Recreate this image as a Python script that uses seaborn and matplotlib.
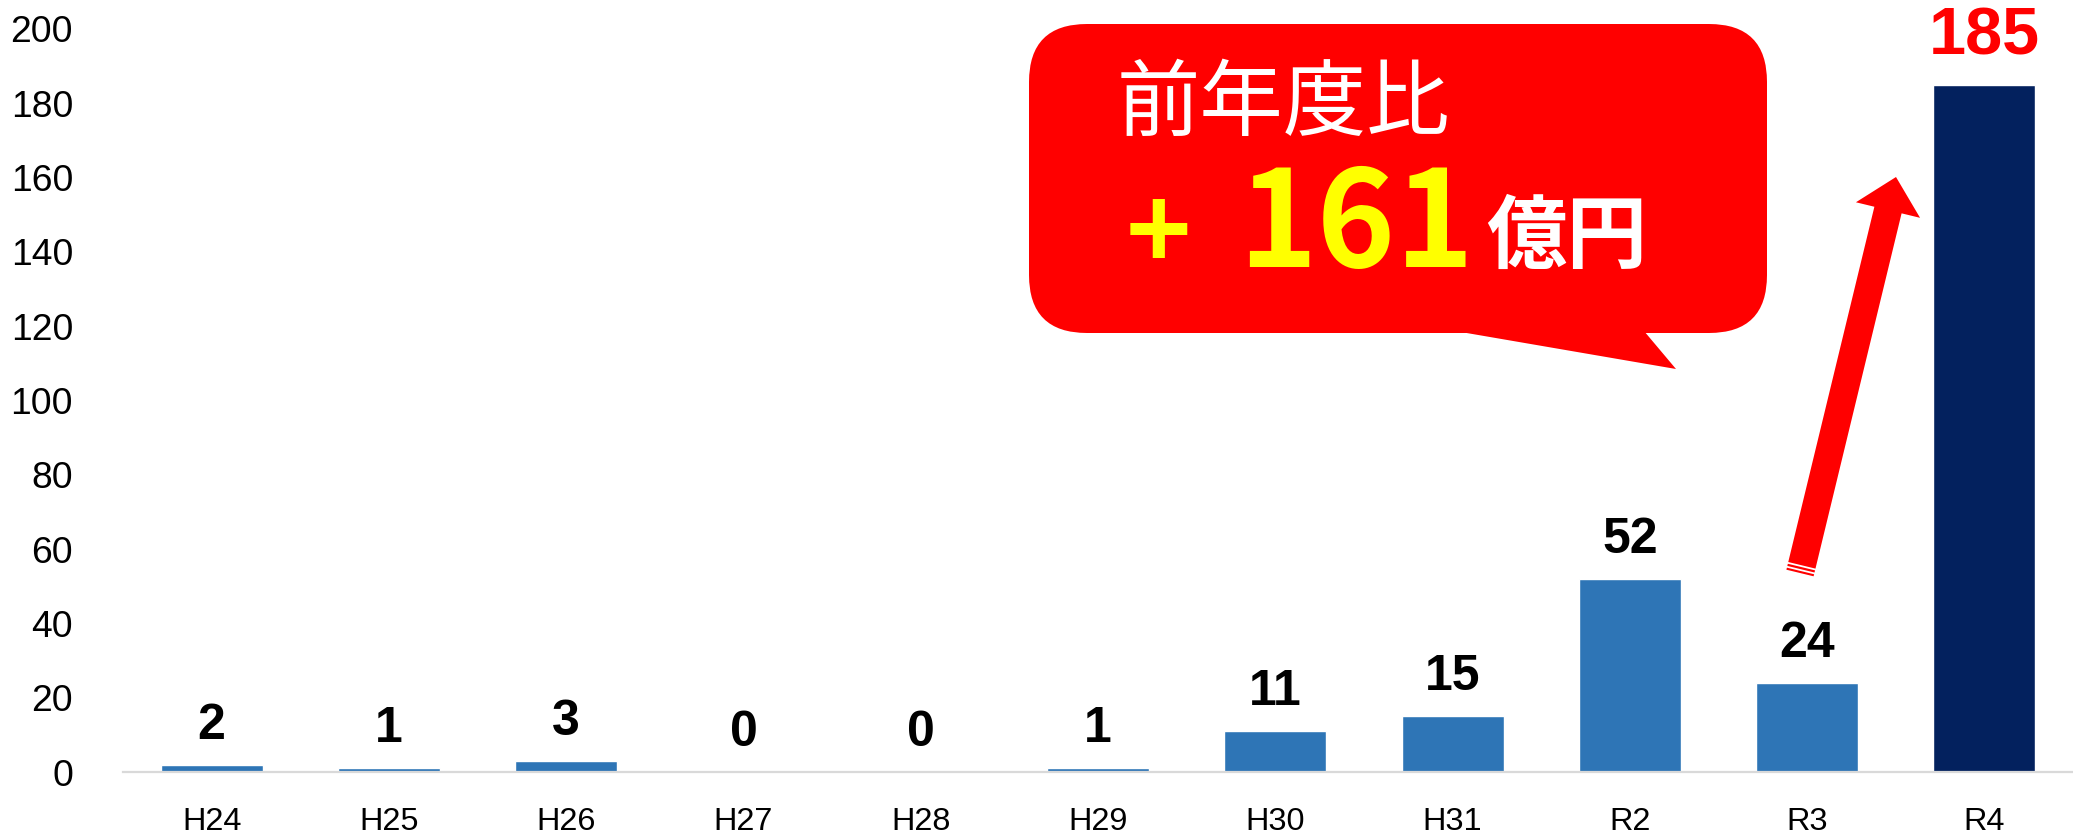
import matplotlib
matplotlib.use("Agg")
import matplotlib.pyplot as plt
import seaborn as sns
import numpy as np
from matplotlib.patches import FancyBboxPatch, Polygon, FancyArrow

# ---- data ----
categories = ["H24", "H25", "H26", "H27", "H28", "H29", "H30", "H31", "R2", "R3", "R4"]
values = [2, 1, 3, 0, 0, 1, 11, 15, 52, 24, 185]
bar_colors = ["#2E75B6"] * 10 + ["#03215E"]
label_colors = ["black"] * 10 + ["#FF0000"]
yticks = [0, 20, 40, 60, 80, 100, 120, 140, 160, 180, 200]
callout_line1 = "前年度比"
callout_plus = "+"
callout_number = "161"
callout_unit = "億円"

sns.set_theme(style="white")
plt.rcParams["font.family"] = ["Liberation Sans", "DejaVu Sans"]

W, H = 2073, 838
DPI = 100
fig = plt.figure(figsize=(W / DPI, H / DPI), dpi=DPI)
fig.patch.set_facecolor("white")

left, right = 123 / W, 1.0
bottom, top = (H - 772) / H, (H - 29) / H
ax = fig.add_axes([left, bottom, right - left, top - bottom])

sns.barplot(x=categories, y=values, hue=categories, palette=bar_colors,
            legend=False, width=0.575, ax=ax, saturation=1)

ax.set_xlim(-0.5, len(categories) - 0.5)
ax.set_ylim(0, 200)
ax.set_yticks(yticks)
ax.set_xlabel("")
ax.set_ylabel("")
for s in ["left", "right", "top"]:
    ax.spines[s].set_visible(False)
ax.spines["bottom"].set_color("#D9D9D9")
ax.spines["bottom"].set_linewidth(1.6)
ax.tick_params(axis="y", length=0, pad=36, labelsize=26.8, colors="black")
ax.tick_params(axis="x", length=0, pad=25, labelsize=23.4, colors="black")
ax.set_facecolor("white")
ax.grid(False)

# value labels
for i, (v, c) in enumerate(zip(values, label_colors)):
    big = (i == len(values) - 1)
    ax.annotate(str(v), xy=(i, v), xytext=(0, (30 if big else 26) * 0.72),
                textcoords="offset points", ha="center", va="baseline",
                fontsize=48 if big else 36, fontweight="bold", color=c)

# ---- overlay for callout and arrow (pixel coords) ----
ov = fig.add_axes([0, 0, 1, 1], zorder=10)
ov.set_xlim(0, W)
ov.set_ylim(H, 0)
ov.axis("off")
ov.patch.set_alpha(0)

red = "#FF0000"
box = FancyBboxPatch((1029, 24), 738, 309,
                     boxstyle="round,pad=0,rounding_size=58",
                     facecolor=red, edgecolor="none")
ov.add_patch(box)
tail = Polygon([(1455, 331), (1676, 369), (1644, 331)], closed=True,
               facecolor=red, edgecolor="none")
ov.add_patch(tail)

cjk = ["Noto Sans CJK JP", "DejaVu Sans"]
ov.text(1283, 105, callout_line1, color="white", fontsize=60, family=cjk,
        ha="center", va="center")
ov.text(1158, 238, callout_plus, color="#FFFF00", fontsize=80, family=cjk,
        fontweight="bold", ha="center", va="center")
ov.text(1238, 267, callout_number, color="#FFFF00", fontsize=96, family=cjk,
        fontweight="bold", ha="left", va="baseline")
ov.text(1486, 262, callout_unit, color="white", fontsize=58, family=cjk,
        fontweight="bold", ha="left", va="baseline")

# arrow
tx, ty = 1800, 573
hx, hy = 1896, 177
arr = FancyArrow(tx, ty, hx - tx, hy - ty, width=28, head_width=66,
                 head_length=34, length_includes_head=True,
                 facecolor=red, edgecolor="none")
ov.add_patch(arr)
d = np.array([hx - tx, hy - ty], dtype=float)
d /= np.linalg.norm(d)
p = np.array([-d[1], d[0]])
for off in (3.0, 7.0):
    c = np.array([tx, ty]) + d * off
    a = c - p * 17
    b = c + p * 17
    ov.plot([a[0], b[0]], [a[1], b[1]], color="white", lw=1.3,
            solid_capstyle="butt")

fig.savefig("out.png", dpi=DPI, facecolor="white")
